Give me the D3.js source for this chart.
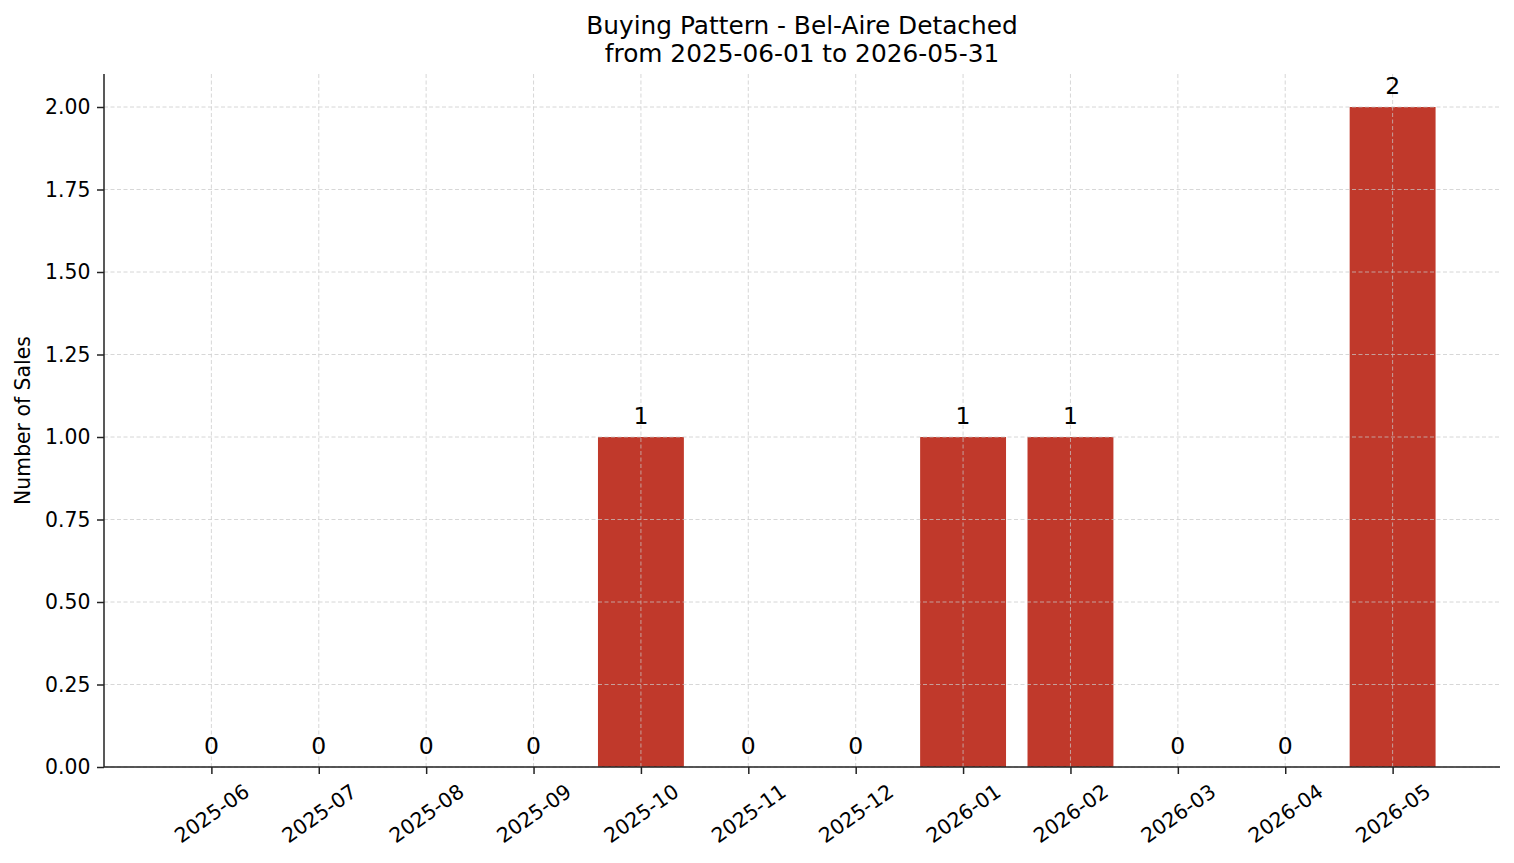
<!DOCTYPE html>
<html>
<head>
<meta charset="utf-8">
<script src="https://cdn.jsdelivr.net/npm/d3@7"></script>
<style>
  html, body { margin: 0; padding: 0; background: #fff; }
  text { font-family: "DejaVu Sans", sans-serif; fill: #000; }
</style>
</head>
<body>
<svg id="chart" width="1514" height="863"></svg>
<script>
const months = ["2025-06","2025-07","2025-08","2025-09","2025-10","2025-11","2025-12","2026-01","2026-02","2026-03","2026-04","2026-05"];
const sales = [0,0,0,0,1,0,0,1,1,0,0,2];
const yTicks = [0,0.25,0.5,0.75,1.0,1.25,1.5,1.75,2.0];
const titleLines = ["Buying Pattern - Bel-Aire Detached", "from 2025-06-01 to 2026-05-31"];
const yLabel = "Number of Sales";

const svg = d3.select("#chart");
const m = {left: 104, right: 1500, top: 74, bottom: 767};
const tickFs = 20.4, titleFs = 24.8, labelFs = 23.5;

const x = d3.scaleLinear().domain([-1, months.length]).range([m.left, m.right]);
const y = d3.scaleLinear().domain([0, 2.1]).range([m.bottom, m.top]);
const barW = x(0.8) - x(0);

// bars
svg.append("g").selectAll("rect").data(sales).join("rect")
  .attr("x", (d,i) => x(i) - barW/2)
  .attr("width", barW)
  .attr("y", d => y(d))
  .attr("height", d => y(0) - y(d))
  .attr("fill", "#c0392b");

// grid (drawn above bars)
const grid = svg.append("g").attr("stroke", "#c8c8c8").attr("stroke-width", 0.9)
  .attr("stroke-dasharray", "4,2.5").attr("opacity", 0.8);
grid.selectAll("line.h").data(yTicks).join("line").attr("class","h")
  .attr("x1", m.left).attr("x2", m.right)
  .attr("y1", d => y(d)).attr("y2", d => y(d));
grid.selectAll("line.v").data(months).join("line").attr("class","v")
  .attr("x1", (d,i) => x(i)).attr("x2", (d,i) => x(i))
  .attr("y1", m.top).attr("y2", m.bottom);

// bar labels
svg.append("g").selectAll("text").data(sales).join("text")
  .attr("x", (d,i) => x(i))
  .attr("y", d => y(d) - 13.5)
  .attr("text-anchor", "middle")
  .attr("font-size", labelFs + "px")
  .text(d => d);

// y axis
const yAxis = d3.axisLeft(y).tickValues(yTicks).tickFormat(d3.format(".2f")).tickSize(7).tickPadding(6.5);
const gy = svg.append("g").attr("transform", `translate(${m.left},0)`).call(yAxis);
gy.select(".domain").remove();
gy.selectAll(".tick line").attr("stroke", "#222").attr("stroke-width", 1.5);
gy.selectAll(".tick text").attr("font-size", tickFs + "px").attr("font-family", "DejaVu Sans").attr("fill", "#000");

// x axis
const xAxis = d3.axisBottom(x).tickValues(d3.range(months.length)).tickFormat(i => months[i]).tickSize(7).tickPadding(6);
const gx = svg.append("g").attr("transform", `translate(0,${m.bottom})`).call(xAxis);
gx.select(".domain").remove();
gx.selectAll(".tick line").attr("stroke", "#222").attr("stroke-width", 1.5);
gx.selectAll(".tick text")
  .attr("font-size", tickFs + "px").attr("font-family", "DejaVu Sans").attr("fill", "#000")
  .attr("text-anchor", "middle").attr("dy", null)
  .each(function() {
    const t = d3.select(this);
    const w = this.getComputedTextLength();
    const h = tickFs * 1.1;
    const a = 35 * Math.PI / 180;
    const H = w * Math.sin(a) + h * Math.cos(a);
    const cy = 7 + 6 + H / 2;
    t.attr("x", 0).attr("y", 0)
     .attr("dominant-baseline", "central")
     .attr("transform", `translate(0,${cy}) rotate(-35)`);
  });

// spines
svg.append("line").attr("x1", m.left).attr("x2", m.left).attr("y1", m.top).attr("y2", m.bottom)
  .attr("stroke", "#222").attr("stroke-width", 1.5);
svg.append("line").attr("x1", m.left).attr("x2", m.right).attr("y1", m.bottom).attr("y2", m.bottom)
  .attr("stroke", "#222").attr("stroke-width", 1.5);

// title
svg.append("g").selectAll("text").data(titleLines).join("text")
  .attr("x", (m.left + m.right) / 2)
  .attr("y", (d,i) => 33.5 + i * 28.5)
  .attr("text-anchor", "middle")
  .attr("font-size", titleFs + "px")
  .text(d => d);

// y label
svg.append("text")
  .attr("transform", `translate(30,${(m.top + m.bottom)/2}) rotate(-90)`)
  .attr("text-anchor", "middle")
  .attr("font-size", tickFs + "px")
  .text(yLabel);
</script>
</body>
</html>
